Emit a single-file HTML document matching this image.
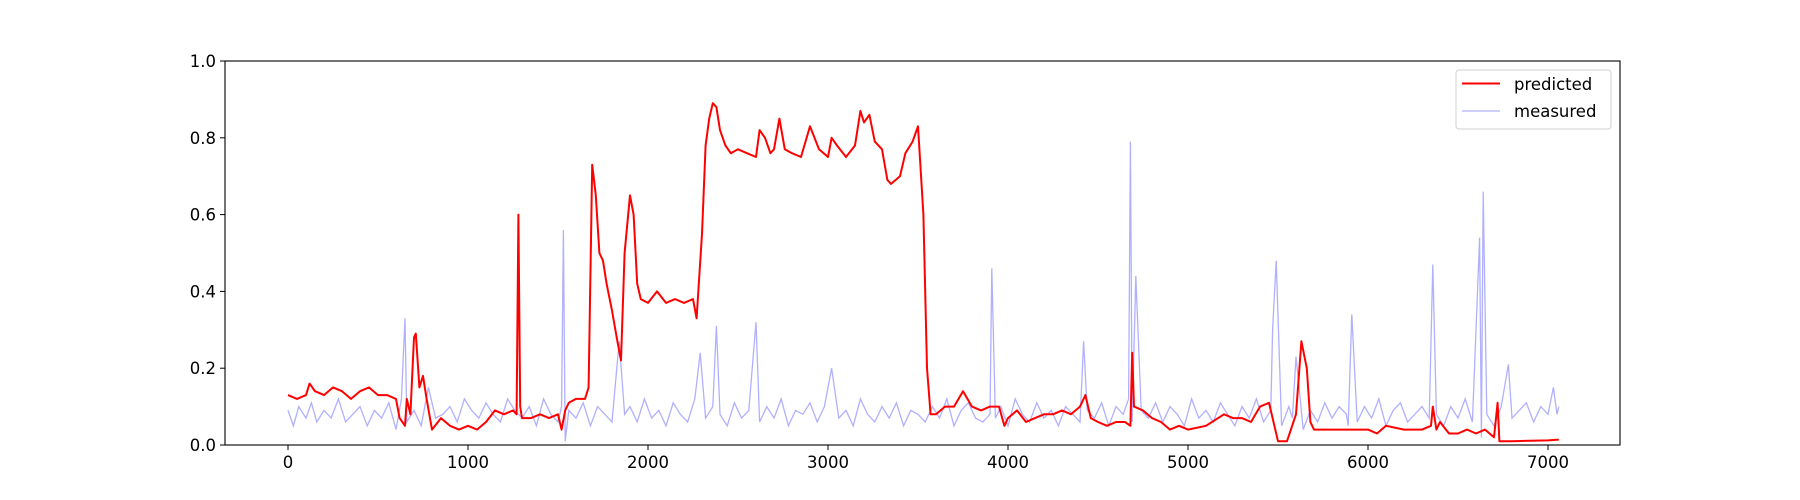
<!DOCTYPE html>
<html><head><meta charset="utf-8">
<style>
body{margin:0;background:#fff;font-family:"DejaVu Sans","Liberation Sans",sans-serif;}
svg{display:block}
</style></head>
<body>
<svg id="chart" width="1800" height="500" xmlns="http://www.w3.org/2000/svg">
<rect width="1800" height="500" fill="#fff"/>
<g id="plot"></g>
<g id="axes"></g>
<g>
<rect x="1456" y="70" width="155" height="59" rx="3" fill="#fff" stroke="#ccc" stroke-width="1" opacity="0.9"/>
<line x1="1462" y1="83.5" x2="1500" y2="83.5" stroke="#ff0000" stroke-width="2"/>
<text x="1514" y="90" font-size="16.5" fill="#000">predicted</text>
<line x1="1462" y1="111" x2="1500" y2="111" stroke="#b0b0ff" stroke-width="1.2"/>
<text x="1514" y="117" font-size="16.5" fill="#000">measured</text>
</g>
</svg>
<script>
const xTicks=[0,1000,2000,3000,4000,5000,6000,7000];
const yTicks=[0.0,0.2,0.4,0.6,0.8,1.0];
const predX=[0,50,100,120,150,200,250,300,350,400,450,500,550,600,620,650,660,680,700,710,730,750,770,800,850,900,950,1000,1050,1100,1150,1200,1250,1270,1280,1290,1300,1350,1400,1450,1500,1520,1540,1560,1600,1650,1670,1690,1710,1730,1750,1770,1800,1830,1850,1870,1900,1920,1940,1960,2000,2050,2100,2150,2200,2250,2270,2300,2320,2340,2360,2380,2400,2430,2460,2500,2550,2600,2620,2650,2680,2700,2730,2760,2800,2850,2900,2950,3000,3020,3050,3100,3150,3180,3200,3230,3260,3300,3330,3350,3400,3430,3470,3500,3530,3550,3570,3600,3650,3700,3750,3800,3850,3900,3950,3980,4000,4050,4100,4150,4200,4250,4300,4350,4400,4430,4460,4500,4550,4600,4650,4680,4690,4700,4750,4800,4850,4900,4950,5000,5100,5200,5250,5300,5350,5400,5450,5480,5500,5550,5600,5630,5660,5680,5700,5800,5900,6000,6050,6100,6200,6300,6350,6360,6380,6400,6450,6500,6550,6600,6650,6700,6720,6730,6800,7000,7060];
const predY=[.13,.12,.13,.16,.14,.13,.15,.14,.12,.14,.15,.13,.13,.12,.07,.05,.12,.08,.28,.29,.15,.18,.12,.04,.07,.05,.04,.05,.04,.06,.09,.08,.09,.08,.60,.1,.07,.07,.08,.07,.08,.04,.09,.11,.12,.12,.15,.73,.65,.50,.48,.42,.35,.27,.22,.5,.65,.6,.42,.38,.37,.40,.37,.38,.37,.38,.33,.55,.78,.85,.89,.88,.82,.78,.76,.77,.76,.75,.82,.80,.76,.77,.85,.77,.76,.75,.83,.77,.75,.80,.78,.75,.78,.87,.84,.86,.79,.77,.69,.68,.70,.76,.79,.83,.6,.2,.08,.08,.10,.10,.14,.10,.09,.10,.10,.05,.07,.09,.06,.07,.08,.08,.09,.08,.10,.13,.07,.06,.05,.06,.06,.05,.24,.10,.09,.07,.06,.04,.05,.04,.05,.08,.07,.07,.06,.10,.11,.05,.01,.01,.08,.27,.2,.06,.04,.04,.04,.04,.03,.05,.04,.04,.05,.10,.04,.06,.03,.03,.04,.03,.04,.02,.11,.01,.01,.012,.014];
const measX=[0,30,60,100,130,160,200,240,280,320,360,400,440,480,520,560,600,630,650,660,700,740,780,820,860,900,940,980,1020,1060,1100,1140,1180,1220,1260,1300,1340,1380,1420,1460,1500,1520,1530,1540,1560,1600,1640,1680,1720,1760,1800,1840,1870,1900,1940,1980,2020,2060,2100,2140,2180,2220,2260,2290,2320,2360,2380,2400,2440,2480,2520,2560,2600,2620,2660,2700,2740,2780,2820,2860,2900,2940,2980,3020,3060,3100,3140,3180,3220,3260,3300,3340,3380,3420,3460,3500,3540,3580,3620,3660,3700,3740,3780,3820,3860,3900,3910,3930,3960,4000,4040,4080,4120,4160,4200,4240,4280,4320,4360,4400,4420,4440,4480,4520,4560,4600,4640,4670,4680,4690,4710,4740,4780,4820,4860,4900,4940,4980,5020,5060,5100,5140,5180,5220,5260,5300,5340,5380,5420,5460,5470,5490,5520,5560,5580,5600,5640,5680,5720,5760,5800,5840,5880,5890,5910,5940,5980,6020,6060,6100,6140,6180,6220,6260,6300,6340,6360,6380,6420,6460,6500,6540,6580,6620,6630,6640,6660,6700,6740,6780,6800,6840,6880,6920,6960,7000,7030,7050,7060];
const measY=[.09,.05,.10,.07,.11,.06,.09,.07,.12,.06,.08,.10,.05,.09,.07,.11,.04,.12,.33,.06,.09,.05,.15,.07,.08,.10,.06,.12,.09,.07,.11,.08,.06,.12,.09,.07,.10,.05,.12,.08,.06,.10,.56,.01,.09,.07,.11,.05,.10,.08,.06,.27,.08,.10,.06,.12,.07,.09,.05,.11,.08,.06,.12,.24,.07,.10,.31,.08,.05,.11,.07,.09,.32,.06,.10,.07,.12,.05,.09,.08,.11,.06,.10,.20,.07,.09,.05,.12,.08,.06,.10,.07,.11,.05,.09,.08,.06,.10,.07,.12,.05,.09,.11,.07,.06,.08,.46,.07,.10,.05,.12,.08,.06,.11,.07,.09,.05,.10,.08,.06,.27,.09,.07,.11,.05,.10,.08,.12,.79,.06,.44,.09,.07,.11,.06,.10,.08,.05,.12,.07,.09,.06,.11,.08,.05,.10,.07,.12,.06,.09,.30,.48,.05,.10,.07,.23,.04,.09,.06,.11,.07,.10,.08,.05,.34,.06,.10,.07,.12,.05,.09,.11,.06,.08,.10,.07,.47,.08,.05,.10,.07,.12,.06,.54,.02,.66,.08,.05,.10,.21,.07,.09,.11,.06,.10,.08,.15,.08,.10];
const L=225,R=1620,T=61,B=445,X0=-350,X1=7400;
const sx=v=>L+(v-X0)/(X1-X0)*(R-L);
const sy=v=>B-v*(B-T);
const NS="http://www.w3.org/2000/svg";
const plot=document.getElementById('plot'),axes=document.getElementById('axes');
function mk(tag,attrs,parent){const e=document.createElementNS(NS,tag);for(const k in attrs)e.setAttribute(k,attrs[k]);parent.appendChild(e);return e;}
function path(xs,ys){return xs.map((x,i)=>(i?'L':'M')+sx(x).toFixed(1)+','+sy(ys[i]).toFixed(1)).join('');}
const m=mk('path',{d:path(measX,measY),fill:'none',stroke:'#b0b0ff','stroke-width':1.3},plot);


const p=mk('path',{d:path(predX,predY),fill:'none',stroke:'#ff0000','stroke-width':2,'stroke-linejoin':'round'},plot);


const fr=mk('rect',{x:L,y:T,width:R-L,height:B-T,fill:'none',stroke:'#000','stroke-width':1.1},axes);


xTicks.forEach(t=>{const x=sx(t);mk('line',{x1:x,y1:B,x2:x,y2:B+5,stroke:'#000'},axes);
const tx=mk('text',{x:x,y:B+23,'font-size':16.5,'text-anchor':'middle',fill:'#000'},axes);tx.textContent=t;

});
yTicks.forEach(t=>{const y=sy(t);mk('line',{x1:L-5,y1:y,x2:L,y2:y,stroke:'#000'},axes);
const tx=mk('text',{x:L-9,y:y+6,'font-size':16.5,'text-anchor':'end',fill:'#000'},axes);tx.textContent=t.toFixed(1);

});
</script>
</body></html>
